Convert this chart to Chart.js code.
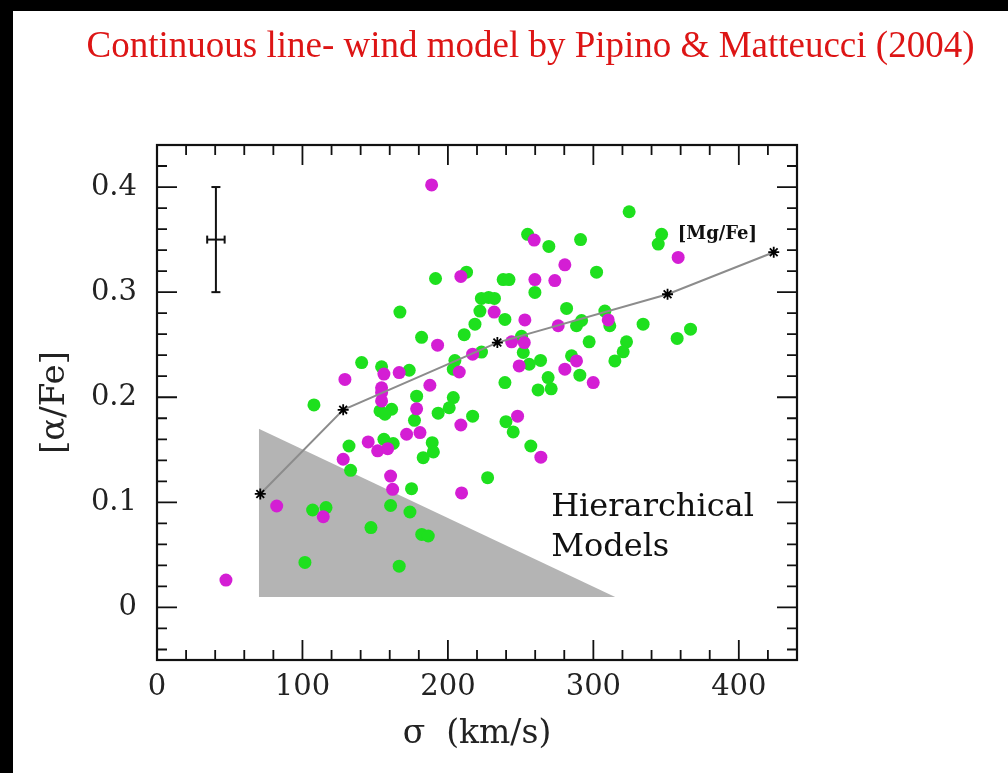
<!DOCTYPE html>
<html>
<head>
<meta charset="utf-8">
<script src="https://cdn.jsdelivr.net/npm/chart.js@4.4.1/dist/chart.umd.min.js"></script>
<style>
  html, body { margin: 0; background: #000; }
  #wrap { position: absolute; left: 13px; top: 11px; width: 995px; height: 762px; background: #fff; }
</style>
</head>
<body>
<div id="wrap"><canvas id="chart" width="995" height="762"></canvas></div>
<script>
// galaxies, green sample
const greenSigma = [140.7, 154.4, 167, 254.8, 269.4, 291.2, 302.2, 212.8, 191.5, 238, 242, 259.8, 223, 228, 232, 222,
  239.2, 281.6, 218.6, 288.4, 291.9, 181.9, 211.2, 250.6, 297.1, 223.1, 251.8, 204.8, 203.7, 173.4, 255.9, 263.7,
  285, 290.7, 268.9, 239.2, 324.6, 346.9, 344.6, 307.9, 311.3, 334.2, 357.6, 366.8, 322.8, 320.5, 314.8, 107.9,
  153.3, 161.3, 156.7, 132, 156, 162.4, 133.1, 160.6, 107, 116.2, 147.1, 101.7, 166.5, 178.5, 203.7, 177, 193.3,
  200.9, 217, 239.9, 244.9, 257, 189.2, 190, 183, 227.3, 175, 173.9, 182, 186.5, 262, 271];
const greenAFe = [0.233, 0.229, 0.281, 0.355, 0.3435, 0.350, 0.319, 0.319, 0.313, 0.312, 0.312, 0.2997, 0.294, 0.295, 0.294, 0.282,
  0.274, 0.2845, 0.2695, 0.268, 0.273, 0.257, 0.2595, 0.258, 0.2527, 0.243, 0.2426, 0.2349, 0.2267, 0.2257, 0.2314, 0.235,
  0.2394, 0.221, 0.2187, 0.214, 0.3765, 0.355, 0.3457, 0.282, 0.268, 0.2695, 0.256, 0.2648, 0.2527, 0.2432, 0.2346, 0.1927,
  0.187, 0.1886, 0.1838, 0.1536, 0.16, 0.156, 0.1305, 0.097, 0.0927, 0.095, 0.076, 0.0428, 0.0393, 0.201, 0.1997, 0.178, 0.1848,
  0.190, 0.182, 0.1768, 0.167, 0.1536, 0.1568, 0.148, 0.1425, 0.1235, 0.113, 0.0908, 0.0695, 0.068, 0.207, 0.208];

// galaxies, magenta sample
const magentaSigma = [156, 129.2, 154.4, 166.5, 188.8, 259.3, 280.4, 208.9, 259.8, 273.5, 231.8, 252.9, 275.8, 192.9, 217,
  243.8, 252.5, 207.8, 249, 288.4, 280.4, 299.9, 187.6, 358.3, 310.2, 154.4, 154.4, 145.2, 151.7, 158.6, 128, 160.6,
  162, 82.3, 114.3, 47.4, 178.5, 208.9, 247.9, 263.9, 171.6, 180.8, 209.4];
const magentaAFe = [0.222, 0.217, 0.209, 0.2235, 0.402, 0.3495, 0.326, 0.315, 0.312, 0.311, 0.281, 0.2736, 0.268, 0.2495, 0.241,
  0.2527, 0.252, 0.224, 0.2298, 0.2346, 0.2267, 0.214, 0.2114, 0.333, 0.2736, 0.2045, 0.1965, 0.1575, 0.149, 0.1511, 0.141, 0.125,
  0.1124, 0.0965, 0.0863, 0.026, 0.189, 0.1736, 0.182, 0.143, 0.1648, 0.1664, 0.109];

// wind model [Mg/Fe]
const modelSigma = [71, 128, 234, 351, 424];
const modelAFe = [0.108, 0.188, 0.252, 0.298, 0.338];

// hierarchical models wedge
const wedgeSigma = [70, 315];
const wedgeAFe = [0.17, 0.01];
const wedgeBase = 0.01;

// typical error bar
const errSigma = 40.5, errAFe = 0.35, errSigmaHalf = 6, errAFeHalf = 0.05;

const xTicks = { min: 0, max: 440, major: 100, minor: 20 };
const yTicks = { min: -0.05, max: 0.44, major: 0.1, minor: 0.02 };

const pts = (xs, ys) => xs.map((x, i) => ({ x, y: ys[i] }));
const serif = '"DejaVu Serif", serif';

const notes = [
  { text: '[Mg/Fe]', x: 358, y: 0.355, font: `bold 18px ${serif}`, base: 'middle' },
  { text: 'Hierarchical', x: 271, y: 0.087, font: `32px ${serif}`, base: 'alphabetic' },
  { text: 'Models', x: 271, y: 0.049, font: `32px ${serif}`, base: 'alphabetic' },
];

const notesPlugin = {
  id: 'notes',
  afterDatasetsDraw(chart) {
    const { ctx, scales: { x, y } } = chart;
    ctx.save();
    ctx.fillStyle = '#111';
    ctx.textAlign = 'left';
    notes.forEach(n => {
      ctx.font = n.font;
      ctx.textBaseline = n.base;
      ctx.fillText(n.text, x.getPixelForValue(n.x), y.getPixelForValue(n.y));
    });
    ctx.restore();
  },
};

// box with inward ticks on all four sides
const framePlugin = {
  id: 'frame',
  afterDraw(chart) {
    const { ctx, chartArea: a, scales: { x, y } } = chart;
    ctx.save();
    ctx.strokeStyle = '#111';
    ctx.lineWidth = 2.2;
    ctx.strokeRect(a.left, a.top, a.right - a.left, a.bottom - a.top);
    ctx.lineWidth = 1.8;
    ctx.beginPath();
    const nx = Math.round((xTicks.max - xTicks.min) / xTicks.minor);
    for (let k = 0; k <= nx; k++) {
      const v = xTicks.min + k * xTicks.minor;
      const px = x.getPixelForValue(v);
      const len = Math.abs(v % xTicks.major) < 1e-6 ? 20 : 10;
      ctx.moveTo(px, a.bottom); ctx.lineTo(px, a.bottom - len);
      ctx.moveTo(px, a.top); ctx.lineTo(px, a.top + len);
    }
    const k0 = Math.ceil(yTicks.min / yTicks.minor - 1e-6);
    for (let k = k0; k * yTicks.minor <= yTicks.max + 1e-9; k++) {
      const v = k * yTicks.minor;
      const py = y.getPixelForValue(v);
      const len = k % 5 === 0 ? 20 : 10;
      ctx.moveTo(a.left, py); ctx.lineTo(a.left + len, py);
      ctx.moveTo(a.right, py); ctx.lineTo(a.right - len, py);
    }
    ctx.stroke();
    ctx.restore();
  },
};

new Chart(document.getElementById('chart'), {
  type: 'scatter',
  data: {
    datasets: [
      {
        label: 'model',
        data: pts(modelSigma, modelAFe),
        showLine: true,
        borderColor: '#8c8c8c',
        borderWidth: 2,
        pointStyle: 'star',
        pointRadius: 5.5,
        pointBorderColor: '#000',
        pointBorderWidth: 1.8,
        order: 0,
      },
      {
        label: 'err-y',
        data: [{ x: errSigma, y: errAFe - errAFeHalf }, { x: errSigma, y: errAFe + errAFeHalf }],
        showLine: true,
        borderColor: '#111',
        borderWidth: 2,
        pointStyle: 'line',
        pointRadius: 4.5,
        pointBorderColor: '#111',
        pointBorderWidth: 2,
        order: 0,
      },
      {
        label: 'err-x',
        data: [{ x: errSigma - errSigmaHalf, y: errAFe }, { x: errSigma + errSigmaHalf, y: errAFe }],
        showLine: true,
        borderColor: '#111',
        borderWidth: 2,
        pointStyle: 'line',
        pointRotation: 90,
        pointRadius: 4,
        pointBorderColor: '#111',
        pointBorderWidth: 2,
        order: 0,
      },
      {
        label: 'magenta',
        data: pts(magentaSigma, magentaAFe),
        backgroundColor: '#d41ed4',
        borderWidth: 0,
        pointRadius: 6.5,
        order: 1,
      },
      {
        label: 'green',
        data: pts(greenSigma, greenAFe),
        backgroundColor: '#1ee01e',
        borderWidth: 0,
        pointRadius: 6.5,
        order: 2,
      },
      {
        label: 'hierarchical',
        data: pts(wedgeSigma, wedgeAFe),
        showLine: true,
        borderColor: 'rgba(0,0,0,0)',
        borderWidth: 0,
        pointRadius: 0,
        fill: { value: wedgeBase },
        backgroundColor: '#b4b4b4',
        tension: 0,
        order: 3,
      },
    ],
  },
  options: {
    responsive: false,
    animation: false,
    layout: { padding: { left: 40, right: 0, top: 0, bottom: 0 } },
    plugins: {
      legend: { display: false },
      tooltip: { enabled: false },
      title: {
        display: true,
        text: 'Continuous line- wind model by Pipino & Matteucci (2004)',
        color: '#dd1515',
        font: { family: '"Liberation Serif", serif', size: 37, weight: 'normal', lineHeight: 1.2 },
        padding: { top: 14, bottom: 75.6 },
      },
    },
    scales: {
      x: {
        type: 'linear',
        min: xTicks.min,
        max: xTicks.max,
        grid: { display: false, drawTicks: false },
        border: { display: false },
        ticks: {
          stepSize: xTicks.major,
          includeBounds: false,
          padding: 10,
          color: '#222',
          font: { family: serif, size: 29 },
          maxRotation: 0,
        },
        title: {
          display: true,
          text: 'σ  (km/s)',
          color: '#222',
          font: { family: serif, size: 33 },
          padding: { top: 0, bottom: 19 },
        },
        afterFit: s => { s.height = 113; },
      },
      y: {
        type: 'linear',
        min: yTicks.min,
        max: yTicks.max,
        grid: { display: false, drawTicks: false },
        border: { display: false },
        ticks: {
          stepSize: yTicks.major,
          includeBounds: false,
          padding: 20,
          color: '#222',
          font: { family: serif, size: 29 },
          callback: v => String(+v.toFixed(2)),
        },
        title: {
          display: true,
          text: '[α/Fe]',
          color: '#222',
          font: { family: serif, size: 34, lineHeight: 1.2 },
          padding: { top: -18, bottom: 0 },
        },
        afterFit: s => { s.width = 104; },
      },
      // empty right-hand margin so the title centres over the whole page
      yRight: {
        type: 'linear',
        position: 'right',
        min: yTicks.min,
        max: yTicks.max,
        grid: { display: false, drawTicks: false },
        border: { display: false },
        ticks: { display: false },
        afterFit: s => { s.width = 211; },
      },
    },
  },
  plugins: [notesPlugin, framePlugin],
});
</script>
</body>
</html>
